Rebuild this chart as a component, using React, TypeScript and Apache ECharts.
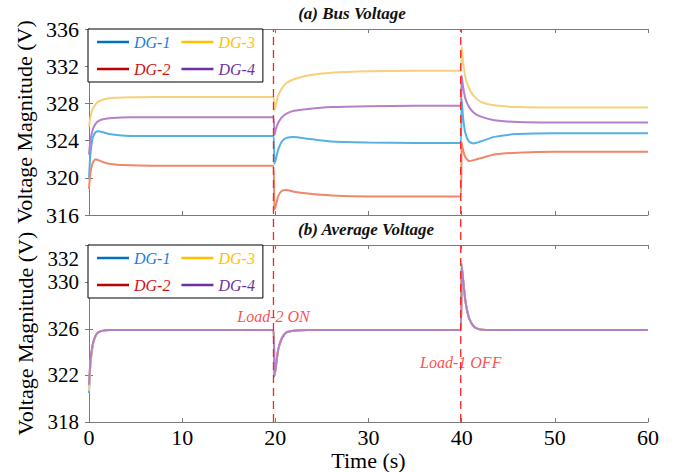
import React, { useEffect, useRef } from "react";
import * as echarts from "echarts";

const FONT = "Liberation Serif";

const SERIES_NAMES = ["DG-1", "DG-2", "DG-3", "DG-4"];
const LINE_COLORS = ["#55b0e4", "#f0876a", "#f6d07a", "#b57fc9"];
const LEGEND_LINE_COLORS = ["#0072BD", "#C00000", "#FFC000", "#7030A0"];
const LEGEND_TEXT_COLORS = ["#1a7fd4", "#d01010", "#ffbf00", "#7030a0"];
const LEGEND_ORDER = ["DG-1", "DG-3", "DG-2", "DG-4"];

const TIME = [0, 0.15, 0.4, 0.7, 1.0, 1.5, 2.2, 3, 4.5, 7, 12, 19.8, 19.9, 20.05, 20.3, 20.7, 21.2, 22, 23.5, 26, 30, 35, 39.9, 40.0, 40.15, 40.4, 40.8, 41.3, 42, 43.5, 46, 50, 55, 60];

// (a) Bus voltage
const BUS_DG1 = [320.0, 322.5, 324.3, 324.9, 325.0, 324.9, 324.7, 324.6, 324.5, 324.5, 324.5, 324.5, 321.5, 322.0, 323.0, 323.9, 324.3, 324.4, 324.2, 323.9, 323.8, 323.75, 323.75, 328.5, 326.5, 324.8, 323.9, 323.7, 323.9, 324.4, 324.7, 324.8, 324.8, 324.8];
const BUS_DG2 = [318.8, 320.5, 321.6, 322.0, 321.9, 321.7, 321.5, 321.4, 321.35, 321.3, 321.3, 321.3, 316.6, 317.0, 318.0, 318.6, 318.7, 318.5, 318.3, 318.1, 318.0, 318.0, 318.0, 323.8, 323.0, 322.2, 321.8, 321.9, 322.1, 322.5, 322.7, 322.8, 322.8, 322.8];
const BUS_DG3 = [325.5, 326.5, 327.4, 327.9, 328.2, 328.4, 328.55, 328.6, 328.65, 328.7, 328.7, 328.7, 327.2, 327.8, 328.8, 329.6, 330.2, 330.6, 331.0, 331.3, 331.45, 331.5, 331.5, 334.1, 332.5, 330.8, 329.6, 328.8, 328.2, 327.8, 327.6, 327.55, 327.55, 327.55];
const BUS_DG4 = [322.5, 324.0, 325.2, 325.8, 326.1, 326.3, 326.4, 326.45, 326.5, 326.5, 326.5, 326.5, 324.6, 325.2, 325.9, 326.5, 326.9, 327.2, 327.4, 327.6, 327.7, 327.75, 327.75, 331.0, 329.8, 328.5, 327.6, 327.0, 326.6, 326.2, 326.0, 325.95, 325.95, 325.95];

// (b) Average voltage
const AVG_DG1 = [320.5, 322.9, 324.6, 325.4, 325.7, 325.85, 325.9, 325.9, 325.9, 325.9, 325.9, 325.9, 322.0, 322.7, 324.2, 325.2, 325.7, 325.85, 325.9, 325.9, 325.9, 325.9, 325.9, 331.6, 330.3, 328.4, 326.9, 326.2, 325.95, 325.9, 325.9, 325.9, 325.9, 325.9];
const AVG_DG2 = [320.9, 323.1, 324.6, 325.4, 325.7, 325.85, 325.9, 325.9, 325.9, 325.9, 325.9, 325.9, 322.0, 322.7, 324.2, 325.2, 325.7, 325.85, 325.9, 325.9, 325.9, 325.9, 325.9, 331.3, 330.2, 328.4, 326.9, 326.2, 325.95, 325.9, 325.9, 325.9, 325.9, 325.9];
const AVG_DG3 = [320.7, 323.0, 324.6, 325.4, 325.7, 325.85, 325.9, 325.9, 325.9, 325.9, 325.9, 325.9, 322.0, 322.7, 324.2, 325.2, 325.7, 325.85, 325.9, 325.9, 325.9, 325.9, 325.9, 331.4, 330.3, 328.4, 326.9, 326.2, 325.95, 325.9, 325.9, 325.9, 325.9, 325.9];
const AVG_DG4 = [321.2, 323.2, 324.7, 325.4, 325.7, 325.85, 325.9, 325.9, 325.9, 325.9, 325.9, 325.9, 321.9, 322.7, 324.2, 325.2, 325.7, 325.85, 325.9, 325.9, 325.9, 325.9, 325.9, 331.4, 330.3, 328.4, 326.9, 326.2, 325.95, 325.9, 325.9, 325.9, 325.9, 325.9];

const BUS = [BUS_DG1, BUS_DG2, BUS_DG3, BUS_DG4];
const AVG = [AVG_DG1, AVG_DG2, AVG_DG3, AVG_DG4];

const EVENTS = [19.8, 39.9];
const ANNOTATIONS = [
  { name: "Load-2 ON", t: 19.8, v: 327.05 },
  { name: "Load-1 OFF", t: 39.9, v: 323.15 },
];

const X_TICKS = { min: 0, max: 60, interval: 10 };
const TOP_Y = { min: 316, max: 336, interval: 4 };
const BOT_Y = { min: 318, max: 333.2, interval: 4 };
const BOT_Y_LABELS = [318, 322, 326, 330, 332];

const TOP_GRID = { left: 89, right: 38, top: 29, height: 186 };
const BOT_GRID = { left: 89, right: 38, top: 245, height: 183 };

const AXIS_COLOR = "#7a7a7a";

function frameAxis(extra: any) {
  return {
    type: "value",
    axisLine: { show: true, lineStyle: { color: AXIS_COLOR, width: 1 } },
    axisTick: { show: true, inside: true, length: 4, lineStyle: { color: AXIS_COLOR } },
    axisLabel: { show: false },
    splitLine: { show: false },
    ...extra,
  };
}

export default function App() {
  const ref = useRef<HTMLDivElement>(null);

  useEffect(() => {
    if (!ref.current) return;
    const chart = echarts.init(ref.current, null, { renderer: "svg" });

    const legendData = LEGEND_ORDER.map((n) => {
      const i = SERIES_NAMES.indexOf(n);
      return {
        name: n,
        itemStyle: { color: LEGEND_LINE_COLORS[i] },
        lineStyle: { color: LEGEND_LINE_COLORS[i] },
        textStyle: { color: LEGEND_TEXT_COLORS[i] },
      };
    });

    const legendBase = {
      left: 88,
      width: 160,
      orient: "horizontal",
      itemGap: 11,
      itemWidth: 32,
      itemHeight: 2.5,
      icon: "rect",
      padding: [5, 8, 5, 9],
      borderColor: "#000",
      borderWidth: 1,
      borderRadius: 0,
      backgroundColor: "#fff",
      selectedMode: false,
      textStyle: { fontFamily: FONT, fontStyle: "italic", fontSize: 16 },
      data: legendData,
    };

    const lineSeries: any[] = [];
    SERIES_NAMES.forEach((name, i) => {
      lineSeries.push({
        name,
        type: "line",
        xAxisIndex: 0,
        yAxisIndex: 0,
        data: TIME.map((t, k) => [t, BUS[i][k]]),
        showSymbol: false,
        smooth: 0.2,
        lineStyle: { color: LINE_COLORS[i], width: 2 },
        itemStyle: { color: LINE_COLORS[i] },
        z: 2,
      });
    });
    SERIES_NAMES.forEach((name, i) => {
      lineSeries.push({
        name,
        type: "line",
        xAxisIndex: 2,
        yAxisIndex: 2,
        data: TIME.map((t, k) => [t, AVG[i][k]]),
        showSymbol: false,
        smooth: 0.2,
        lineStyle: { color: LINE_COLORS[i], width: 2 },
        itemStyle: { color: LINE_COLORS[i] },
        z: 2,
      });
    });

    const gapAbove = BOT_GRID.top - TOP_GRID.top;
    const tickLabel = { show: true, color: "#000", fontFamily: FONT, fontSize: 22 };
    const axisName = { color: "#000", fontFamily: FONT, fontSize: 22 };

    const option: any = {
      animation: false,
      backgroundColor: "#fff",
      textStyle: { fontFamily: FONT },
      grid: [
        { ...TOP_GRID, containLabel: false },
        { ...BOT_GRID, containLabel: false },
      ],
      legend: [
        { ...legendBase, top: 29 },
        { ...legendBase, top: 245 },
      ],
      xAxis: [
        frameAxis({ gridIndex: 0, position: "bottom", ...X_TICKS }),
        frameAxis({ gridIndex: 0, position: "top", ...X_TICKS }),
        frameAxis({
          gridIndex: 1,
          position: "bottom",
          ...X_TICKS,
          axisLabel: { ...tickLabel, margin: 4 },
          name: "Time (s)",
          nameLocation: "middle",
          nameGap: 17,
          nameTextStyle: axisName,
        }),
        frameAxis({ gridIndex: 1, position: "top", ...X_TICKS }),
      ],
      yAxis: [
        frameAxis({
          gridIndex: 0,
          position: "left",
          ...TOP_Y,
          axisLabel: { ...tickLabel, margin: 10 },
          name: "Voltage Magnitude (V)",
          nameLocation: "middle",
          nameGap: 49,
          nameTextStyle: axisName,
        }),
        frameAxis({ gridIndex: 0, position: "right", ...TOP_Y }),
        frameAxis({
          gridIndex: 1,
          position: "left",
          ...BOT_Y,
          axisLabel: { ...tickLabel, fontSize: 21, margin: 10, customValues: BOT_Y_LABELS },
          axisTick: { show: true, inside: true, length: 4, lineStyle: { color: AXIS_COLOR }, customValues: BOT_Y_LABELS },
          name: "Voltage Magnitude (V)",
          nameLocation: "middle",
          nameGap: 49,
          nameTextStyle: axisName,
        }),
        frameAxis({ gridIndex: 1, position: "right", ...BOT_Y }),
      ],
      graphic: [
        {
          type: "text",
          x: 352,
          y: 13,
          style: {
            text: "(a) Bus Voltage",
            fontFamily: FONT,
            fontStyle: "italic",
            fontWeight: "bold",
            fontSize: 17,
            fill: "#111",
            textAlign: "center",
            textVerticalAlign: "middle",
          },
          z: 20,
        },
        {
          type: "text",
          x: 366,
          y: 229,
          style: {
            text: "(b) Average Voltage",
            fontFamily: FONT,
            fontStyle: "italic",
            fontWeight: "bold",
            fontSize: 17,
            fill: "#111",
            textAlign: "center",
            textVerticalAlign: "middle",
          },
          z: 20,
        },
      ],
      series: [
        ...lineSeries,
        {
          type: "custom",
          xAxisIndex: 2,
          yAxisIndex: 2,
          clip: false,
          silent: true,
          z: 10,
          data: EVENTS.map((t) => [t, BOT_Y.min]),
          encode: { x: 0, y: 1 },
          renderItem: (_params: any, api: any) => {
            const t = api.value(0);
            const b = api.coord([t, BOT_Y.min]);
            const top = api.coord([t, BOT_Y.max]);
            return {
              type: "line",
              shape: { x1: b[0], y1: b[1], x2: b[0], y2: top[1] - gapAbove },
              style: { stroke: "#ff2020", lineWidth: 1.3, lineDash: [8, 5] },
            };
          },
        },
        {
          type: "scatter",
          xAxisIndex: 2,
          yAxisIndex: 2,
          symbolSize: 1,
          itemStyle: { color: "rgba(0,0,0,0)" },
          silent: true,
          z: 11,
          data: ANNOTATIONS.map((a) => ({ name: a.name, value: [a.t, a.v] })),
          label: {
            show: true,
            position: "inside",
            formatter: (p: any) => p.name,
            color: "#ff1a1a",
            fontFamily: FONT,
            fontStyle: "italic",
            fontSize: 16,
          },
        },
      ],
    };

    chart.setOption(option);
    return () => chart.dispose();
  }, []);

  return (
    <div
      ref={ref}
      style={{ position: "fixed", left: 0, top: 0, width: 686, height: 472, background: "#fff" }}
    />
  );
}
